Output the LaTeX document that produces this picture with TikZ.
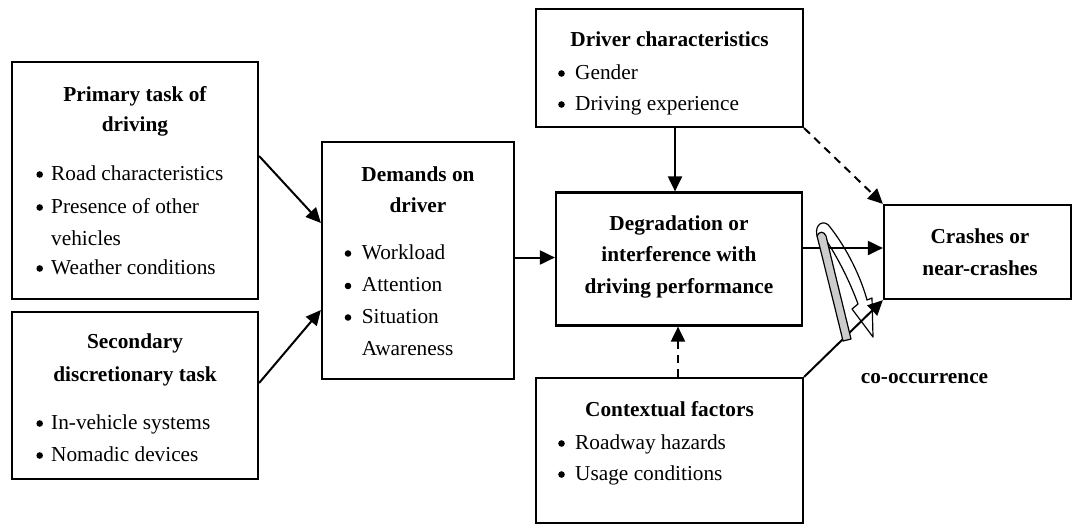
\documentclass[tikz,border=0pt]{standalone}
\usepackage{fontspec}
\setmainfont{Liberation Serif}
\usetikzlibrary{arrows.meta}
\definecolor{ribbongray}{HTML}{CCCCCC}
\begin{document}
\begin{tikzpicture}[x=1pt,y=-1pt,
  box/.style={draw, line width=2.2pt, rectangle, inner sep=0pt},
  txt/.style={anchor=base, inner sep=0pt, font=\fontsize{21.3}{31}\selectfont},
  hd/.style={txt, font=\fontsize{21.3}{31}\selectfont\bfseries},
  itm/.style={txt, anchor=base west},
  dot/.style={circle, fill=black, inner sep=0pt, minimum size=6.6pt},
  arr/.style={line width=2pt, -{Triangle[length=15pt,width=14pt]}},
  dsh/.style={arr, dash pattern=on 8pt off 6pt},
  rib/.style={line width=1.2pt, line join=round}]
\fill[white] (0,0) rectangle (1076,528);
\useasboundingbox (0,0) rectangle (1076,528);

% boxes
\node[box, minimum width=246pt, minimum height=237pt] (prim) at (135,180.5) {};
\node[box, minimum width=246pt, minimum height=167pt] (sec) at (135,395.5) {};
\node[box, minimum width=192pt, minimum height=237pt] (dem) at (418,260.5) {};
\node[box, minimum width=267pt, minimum height=118pt] (drv) at (669.5,68) {};
\node[box, minimum width=246pt, minimum height=133pt] (deg) at (679,259) {};
\node[box, minimum width=267pt, minimum height=145pt] (ctx) at (669.5,450.5) {};
\node[box, minimum width=187pt, minimum height=94pt] (crash) at (977.5,252) {};

% primary task text
\node[hd] (p1) at (135,101.5) {Primary task of};
\node[hd] (p2) at (135,131.5) {driving};
\node[dot] (pb1) at (39.7,174.5) {};
\node[itm] (pt1) at (51,180) {Road characteristics};
\node[dot] (pb2) at (39.7,207.5) {};
\node[itm] (pt2) at (51,213) {Presence of other};
\node[itm] (pt3) at (51,245) {vehicles};
\node[dot] (pb4) at (39.7,268.5) {};
\node[itm] (pt4) at (51,274) {Weather conditions};

% secondary task text
\node[hd] (s1) at (135,348) {Secondary};
\node[hd] (s2) at (135,381) {discretionary task};
\node[dot] (sb1) at (39.7,423.5) {};
\node[itm] (st1) at (51,429) {In-vehicle systems};
\node[dot] (sb2) at (39.7,455.5) {};
\node[itm] (st2) at (51,461) {Nomadic devices};

% demands text
\node[hd] (d1) at (418,181.5) {Demands on};
\node[hd] (d2) at (418,212.5) {driver};
\node[dot] (db1) at (348,253.5) {};
\node[itm] (dt1) at (361.7,259) {Workload};
\node[dot] (db2) at (348,286) {};
\node[itm] (dt2) at (361.7,291.5) {Attention};
\node[dot] (db3) at (348,317.5) {};
\node[itm] (dt3) at (361.7,323) {Situation};
\node[itm] (dt4) at (361.7,355) {Awareness};

% driver characteristics text
\node[hd] (r1) at (669.5,46.5) {Driver characteristics};
\node[dot] (rb1) at (561.5,73.5) {};
\node[itm] (rt1) at (575,79) {Gender};
\node[dot] (rb2) at (561.5,104.5) {};
\node[itm] (rt2) at (575,110) {Driving experience};

% degradation text
\node[hd] (g1) at (679,230) {Degradation or};
\node[hd] (g2) at (679,261.5) {interference with};
\node[hd] (g3) at (679,293) {driving performance};

% contextual text
\node[hd] (c1) at (669.5,416.5) {Contextual factors};
\node[dot] (cb1) at (561.5,443.5) {};
\node[itm] (ct1) at (575,449) {Roadway hazards};
\node[dot] (cb2) at (561.5,474.5) {};
\node[itm] (ct2) at (575,480) {Usage conditions};

% crashes text
\node[hd] (k1) at (980,243) {Crashes or};
\node[hd] (k2) at (980,275) {near-crashes};

\node[hd] (cooc) at (924.5,383) {co-occurrence};

% ribbon arrow (white part)
\draw[rib, fill=white] (826,242) -- (817,236) .. controls (814,223) and (825,219) .. (830,227)
  .. controls (848,250) and (861,278) .. (867,300) -- (872,298) -- (873,337) -- (852,309)
  -- (858,304) .. controls (850,282) and (838,258) .. (826,240) -- cycle;

% connectors
\draw[arr] ([yshift=24.5pt]prim.east) -- ([yshift=37.5pt]dem.west);
\draw[arr] ([yshift=12.5pt]sec.east) -- ([yshift=-49.5pt]dem.west);
\coordinate (de1) at ([yshift=3pt]dem.east);
\draw[arr] (de1) -- (de1 -| deg.west);
\coordinate (dv1) at ([xshift=5.5pt]drv.south);
\draw[arr] (dv1) -- (dv1 |- deg.north);
\draw[dsh] (drv.south east) -- (crash.north west);
\coordinate (dg1) at ([yshift=11pt]deg.east);
\draw[arr] (dg1) -- (dg1 -| crash.west);
\coordinate (cx1) at ([xshift=8.5pt]ctx.north);
\draw[dsh] (cx1) -- (cx1 |- deg.south);
\draw[arr] (ctx.north east) -- (crash.south west);

% ribbon arrow (gray band)
\draw[rib, fill=ribbongray] (817,236) .. controls (828,280) and (838,320) .. (843,341) -- (851,339)
  .. controls (846,318) and (836,278) .. (826,236) .. controls (824,231) and (819,231) .. cycle;
\end{tikzpicture}
\end{document}
